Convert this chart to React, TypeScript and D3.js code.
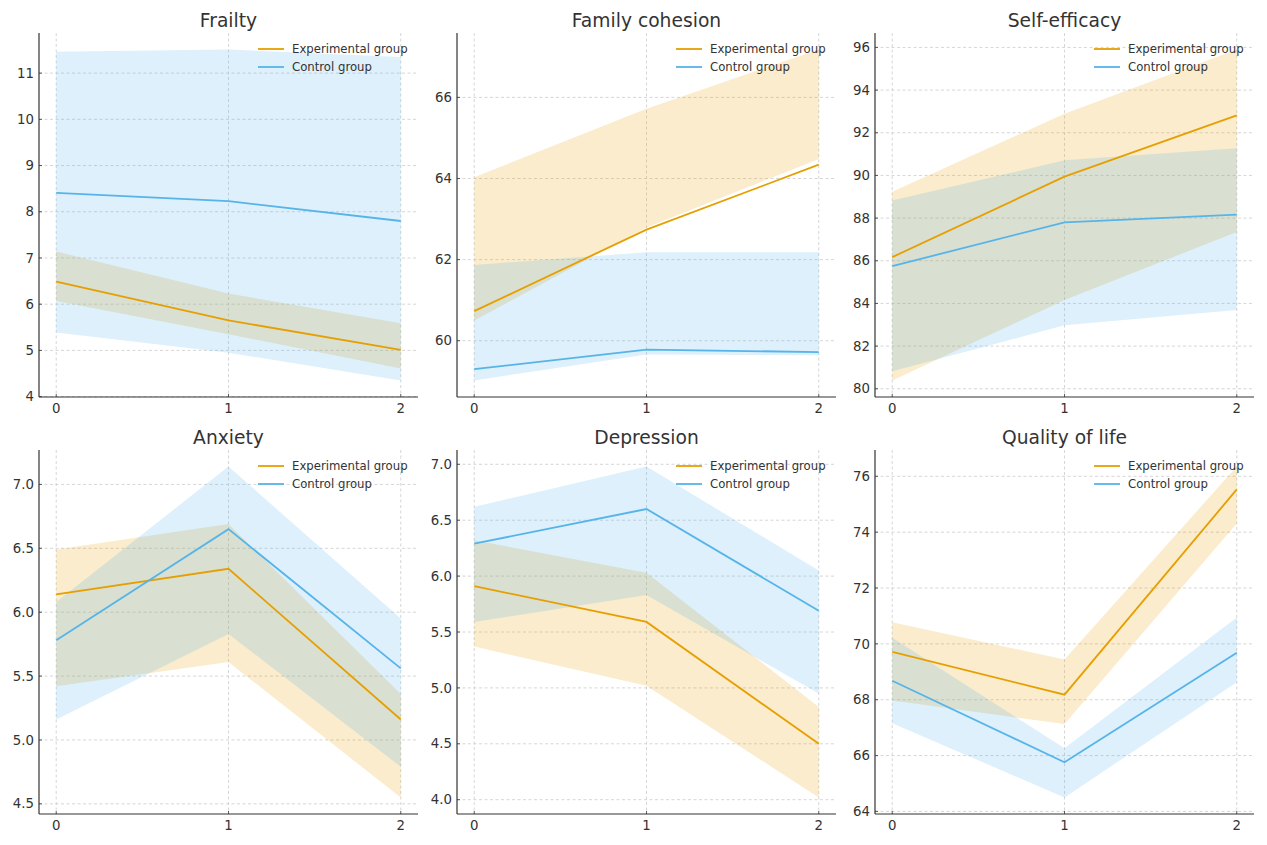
import React from "react";
import * as d3 from "d3";

// time points (x axis)
const timePoints = [0, 1, 2];
const xTicks = [0, 1, 2];

const seriesNames = ["Experimental group", "Control group"];
const seriesColors = ["#E69F00", "#56B4E9"];

// Frailty
const frailtyExpMean = [6.49, 5.65, 5.01];
const frailtyExpLow = [6.07, 5.35, 4.61];
const frailtyExpHigh = [7.14, 6.23, 5.59];
const frailtyCtlMean = [8.41, 8.23, 7.8];
const frailtyCtlLow = [5.39, 4.95, 4.35];
const frailtyCtlHigh = [11.46, 11.51, 11.35];
const frailtyTicks = [4, 5, 6, 7, 8, 9, 10, 11];

// Family cohesion
const cohesionExpMean = [60.73, 62.74, 64.34];
const cohesionExpLow = [60.5, 62.79, 64.48];
const cohesionExpHigh = [64.03, 65.72, 67.18];
const cohesionCtlMean = [59.3, 59.78, 59.72];
const cohesionCtlLow = [59.02, 59.66, 59.64];
const cohesionCtlHigh = [61.87, 62.18, 62.18];
const cohesionTicks = [60, 62, 64, 66];

// Self-efficacy
const efficacyExpMean = [86.17, 89.94, 92.81];
const efficacyExpLow = [80.39, 84.16, 87.35];
const efficacyExpHigh = [89.23, 92.89, 95.9];
const efficacyCtlMean = [85.75, 87.8, 88.16];
const efficacyCtlLow = [80.82, 82.98, 83.69];
const efficacyCtlHigh = [88.82, 90.71, 91.27];
const efficacyTicks = [80, 82, 84, 86, 88, 90, 92, 94, 96];

// Anxiety
const anxietyExpMean = [6.14, 6.34, 5.16];
const anxietyExpLow = [5.42, 5.61, 4.55];
const anxietyExpHigh = [6.49, 6.69, 5.36];
const anxietyCtlMean = [5.78, 6.65, 5.56];
const anxietyCtlLow = [5.16, 5.83, 4.79];
const anxietyCtlHigh = [6.08, 7.14, 5.95];
const anxietyTicks = [4.5, 5.0, 5.5, 6.0, 6.5, 7.0];

// Depression
const depressionExpMean = [5.91, 5.59, 4.5];
const depressionExpLow = [5.37, 5.02, 4.02];
const depressionExpHigh = [6.32, 6.03, 4.83];
const depressionCtlMean = [6.29, 6.6, 5.69];
const depressionCtlLow = [5.59, 5.83, 4.95];
const depressionCtlHigh = [6.62, 6.98, 6.05];
const depressionTicks = [4.0, 4.5, 5.0, 5.5, 6.0, 6.5, 7.0];

// Quality of life
const qolExpMean = [69.71, 68.18, 75.53];
const qolExpLow = [67.97, 67.13, 74.31];
const qolExpHigh = [70.77, 69.44, 76.35];
const qolCtlMean = [68.68, 65.76, 69.68];
const qolCtlLow = [67.16, 64.5, 68.63];
const qolCtlHigh = [70.22, 66.26, 70.94];
const qolTicks = [64, 66, 68, 70, 72, 74, 76];

const panels = [
  { title: "Frailty", ticks: frailtyTicks, fmt: "d",
    series: [[frailtyExpMean, frailtyExpLow, frailtyExpHigh], [frailtyCtlMean, frailtyCtlLow, frailtyCtlHigh]] },
  { title: "Family cohesion", ticks: cohesionTicks, fmt: "d",
    series: [[cohesionExpMean, cohesionExpLow, cohesionExpHigh], [cohesionCtlMean, cohesionCtlLow, cohesionCtlHigh]] },
  { title: "Self-efficacy", ticks: efficacyTicks, fmt: "d",
    series: [[efficacyExpMean, efficacyExpLow, efficacyExpHigh], [efficacyCtlMean, efficacyCtlLow, efficacyCtlHigh]] },
  { title: "Anxiety", ticks: anxietyTicks, fmt: ".1f",
    series: [[anxietyExpMean, anxietyExpLow, anxietyExpHigh], [anxietyCtlMean, anxietyCtlLow, anxietyCtlHigh]] },
  { title: "Depression", ticks: depressionTicks, fmt: ".1f",
    series: [[depressionExpMean, depressionExpLow, depressionExpHigh], [depressionCtlMean, depressionCtlLow, depressionCtlHigh]] },
  { title: "Quality of life", ticks: qolTicks, fmt: "d",
    series: [[qolExpMean, qolExpLow, qolExpHigh], [qolCtlMean, qolCtlLow, qolCtlHigh]] },
];

const W = 1267;
const H = 845;
const axLefts = [39, 457, 875];
const axTops = [33, 450];
const axW = 379;
const axH = 364;
const textColor = "#333333";
const font = "DejaVu Sans, sans-serif";

const Panel = ({ p, left, top }: { p: any; left: number; top: number }) => {
  const x = d3.scaleLinear().domain([-0.1, 2.1]).range([0, axW]);
  const all = p.series.flat(2) as number[];
  const [lo, hi] = d3.extent(all) as [number, number];
  const pad = (hi - lo) * 0.05; // matplotlib-like margins
  const y = d3.scaleLinear().domain([lo - pad, hi + pad]).range([axH, 0]);
  const fmt = d3.format(p.fmt);

  const line = d3
    .line<number>()
    .x((_, i) => x(timePoints[i]))
    .y((d) => y(d));

  const band = (low: number[], high: number[]) =>
    d3
      .area<number>()
      .x((d) => x(d))
      .y0((_, i) => y(low[i]))
      .y1((_, i) => y(high[i]))(timePoints);

  return (
    <g transform={`translate(${left},${top})`}>
      {/* grid */}
      {p.ticks.map((t: number) => (
        <line key={`gy${t}`} x1={0} x2={axW} y1={y(t)} y2={y(t)}
          stroke="#cccccc" strokeWidth={0.8} strokeDasharray="3,2.5" />
      ))}
      {xTicks.map((t) => (
        <line key={`gx${t}`} x1={x(t)} x2={x(t)} y1={0} y2={axH}
          stroke="#cccccc" strokeWidth={0.8} strokeDasharray="3,2.5" />
      ))}
      {/* bands */}
      {p.series.map((s: number[][], i: number) => (
        <path key={`b${i}`} d={band(s[1], s[2]) || ""} fill={seriesColors[i]} fillOpacity={0.2} />
      ))}
      {/* lines */}
      {p.series.map((s: number[][], i: number) => (
        <path key={`l${i}`} d={line(s[0]) || ""} fill="none" stroke={seriesColors[i]} strokeWidth={1.8} />
      ))}
      {/* spines */}
      <line x1={0} x2={0} y1={0} y2={axH} stroke={textColor} strokeWidth={1.2} />
      <line x1={0} x2={axW} y1={axH} y2={axH} stroke={textColor} strokeWidth={1.2} />
      {/* y ticks */}
      {p.ticks.map((t: number) => (
        <g key={`ty${t}`}>
          <line x1={0} x2={3} y1={y(t)} y2={y(t)} stroke={textColor} strokeWidth={0.8} />
          <text x={-5} y={y(t)} dy="0.35em" textAnchor="end" fontSize={13.3} fill={textColor} fontFamily={font}>
            {fmt(t)}
          </text>
        </g>
      ))}
      {/* x ticks */}
      {xTicks.map((t) => (
        <g key={`tx${t}`}>
          <line x1={x(t)} x2={x(t)} y1={axH} y2={axH - 3} stroke={textColor} strokeWidth={0.8} />
          <text x={x(t)} y={axH + 16} textAnchor="middle" fontSize={13.3} fill={textColor} fontFamily={font}>
            {t}
          </text>
        </g>
      ))}
      {/* title */}
      <text x={axW / 2} y={-6} textAnchor="middle" fontSize={18.7} fill={textColor} fontFamily={font}>
        {p.title}
      </text>
      {/* legend */}
      {seriesNames.map((n, i) => (
        <g key={n} transform={`translate(${axW - 160},${16 + i * 18})`}>
          <line x1={0} x2={26} y1={0} y2={0} stroke={seriesColors[i]} strokeWidth={1.8} />
          <text x={34} y={0} dy="0.35em" fontSize={11.7} fill={textColor} fontFamily={font}>
            {n}
          </text>
        </g>
      ))}
    </g>
  );
};

export default function App() {
  return (
    <svg width={W} height={H} style={{ position: "absolute", left: 0, top: 0, background: "#fff" }}>
      <rect width={W} height={H} fill="#fff" />
      {panels.map((p, i) => (
        <Panel key={p.title} p={p} left={axLefts[i % 3]} top={axTops[Math.floor(i / 3)]} />
      ))}
    </svg>
  );
}
